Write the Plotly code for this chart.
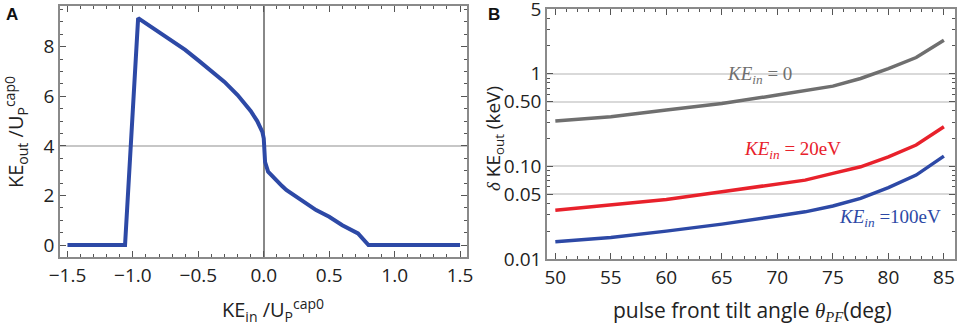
import plotly.graph_objects as go

# Panel A data
ke_in = [-1.5, -1.06, -0.96, -0.8, -0.6, -0.5, -0.4, -0.3, -0.2, -0.15, -0.1, -0.05, -0.03, -0.01,
         0.0, 0.003, 0.01, 0.033, 0.06, 0.1, 0.14, 0.172, 0.25, 0.3, 0.4, 0.5, 0.6, 0.72, 0.80, 1.5]
ke_out = [0, 0, 9.15, 8.6, 7.87, 7.45, 7.04, 6.58, 6.05, 5.75, 5.41, 5.0, 4.81, 4.55,
          4.3, 3.6, 3.35, 2.96, 2.8, 2.58, 2.38, 2.22, 1.95, 1.75, 1.41, 1.14, 0.8, 0.47, 0.0, 0.0]
a_xticks = [-1.5, -1.0, -0.5, 0.0, 0.5, 1.0, 1.5]
a_yticks = [0, 2, 4, 6, 8]

# Panel B data
theta = [50, 55, 60, 65, 70, 72.5, 75, 77.5, 80, 82.5, 85]
dke_0 = [0.309, 0.344, 0.406, 0.479, 0.589, 0.656, 0.736, 0.89, 1.14, 1.50, 2.31]
dke_20 = [0.0337, 0.0382, 0.044, 0.0532, 0.0655, 0.0711, 0.084, 0.099, 0.127, 0.170, 0.268]
dke_100 = [0.01535, 0.0171, 0.020, 0.0238, 0.0291, 0.0323, 0.0373, 0.0451, 0.0589, 0.0806, 0.129]
b_xticks = [50, 55, 60, 65, 70, 75, 80, 85]
b_yticks = [0.01, 0.05, 0.1, 0.5, 1, 5]
b_yticklabels = ["0.01", "0.05", "0.10", "0.50", "1", "5"]
b_minor = [0.02, 0.03, 0.04, 0.06, 0.07, 0.08, 0.09, 0.2, 0.3, 0.4, 0.6, 0.7, 0.8, 0.9, 2, 3, 4]

W, H = 957, 330
def px(x):
    return x / W
def py(y):
    return 1 - y / H

BLUE = "#2D49A6"
RED = "#E8212B"
GRAY = "#6F6F6F"
FRAME = "#8a8a8a"
FONT = "Open Sans"
TICKFONT = dict(family=FONT, size=19, color="#222")

fig = go.Figure()
fig.add_trace(go.Scatter(x=ke_in, y=ke_out, mode="lines", xaxis="x", yaxis="y",
                         line=dict(color=BLUE, width=4), showlegend=False))
fig.add_trace(go.Scatter(x=theta, y=dke_0, mode="lines", xaxis="x2", yaxis="y2",
                         line=dict(color=GRAY, width=3.5), showlegend=False))
fig.add_trace(go.Scatter(x=theta, y=dke_20, mode="lines", xaxis="x2", yaxis="y2",
                         line=dict(color=RED, width=3.5), showlegend=False))
fig.add_trace(go.Scatter(x=theta, y=dke_100, mode="lines", xaxis="x2", yaxis="y2",
                         line=dict(color=BLUE, width=3.5), showlegend=False))

common = dict(showline=True, linecolor=FRAME, linewidth=1.5, mirror="ticks",
              ticks="inside", ticklen=6, tickcolor="#555", tickwidth=1,
              tickfont=TICKFONT, ticklabeloverflow="allow", automargin=False)

fig.update_layout(
    width=W, height=H, margin=dict(l=0, r=0, t=0, b=0),
    plot_bgcolor="white", paper_bgcolor="white",
    xaxis=dict(domain=[px(60), px(467)], anchor="y", range=[-1.557, 1.553],
               tickmode="array", tickvals=a_xticks, tickformat=".1f",
               showgrid=False, zeroline=True, zerolinecolor="#888", zerolinewidth=1.5,
               minor=dict(dtick=0.1, tick0=0, ticks="inside", ticklen=3, tickcolor="#555", showgrid=False),
               **common),
    yaxis=dict(domain=[py(257), py(6)], anchor="x", range=[-0.48, 9.64],
               tickmode="array", tickvals=a_yticks, showgrid=False, zeroline=False,
               minor=dict(dtick=0.5, tick0=0, ticks="inside", ticklen=3, tickcolor="#555", showgrid=False),
               **common),
    xaxis2=dict(domain=[px(547), px(955)], anchor="y2", range=[49.25, 86.0],
                tickmode="array", tickvals=b_xticks, showgrid=False, zeroline=False,
                minor=dict(dtick=1, tick0=50, ticks="inside", ticklen=3, tickcolor="#555", showgrid=False),
                **common),
    yaxis2=dict(domain=[py(259), py(9)], anchor="x2", type="log", range=[-2, 0.7],
                tickmode="array", tickvals=b_yticks, ticktext=b_yticklabels,
                showgrid=True, gridcolor="#d9d9d9", gridwidth=1.5, zeroline=False,
                minor=dict(tickmode="array", tickvals=b_minor, ticks="inside", ticklen=3,
                           tickcolor="#555", showgrid=False),
                **common),
)

# horizontal reference line at y=4 in panel A
fig.add_shape(type="line", xref="x domain", yref="y", x0=0, x1=1, y0=4, y1=4,
              line=dict(color="#b5b5b5", width=1.5), layer="below")

ann = []
ann.append(dict(text="<b>A</b>", x=px(4), y=py(14), xanchor="left", yanchor="middle",
                font=dict(family="Liberation Sans", size=17, color="#111")))
ann.append(dict(text="<b>B</b>", x=px(486), y=py(14), xanchor="left", yanchor="middle",
                font=dict(family="Liberation Sans", size=17, color="#111")))
ann.append(dict(text="KE<sub>in</sub> /U<sub>P</sub><sup>cap0</sup>", x=px(273), y=py(310),
                xanchor="center", yanchor="middle", font=dict(family=FONT, size=20, color="#222")))
ann.append(dict(text="KE<sub>out</sub> /U<sub>P</sub><sup>cap0</sup>", x=px(16), y=py(132),
                xanchor="center", yanchor="middle", textangle=-90,
                font=dict(family=FONT, size=20, color="#222")))
ann.append(dict(text="pulse front tilt angle <span style='font-family:Liberation Serif'><i>θ<sub>PF</sub></i></span>(deg)",
                x=px(752), y=py(310), xanchor="center", yanchor="middle",
                font=dict(family=FONT, size=21, color="#222")))
ann.append(dict(text="<span style='font-family:Liberation Serif'><i>δ</i></span> KE<sub>out</sub> (keV)",
                x=px(494), y=py(138), xanchor="center", yanchor="middle", textangle=-90,
                font=dict(family=FONT, size=19, color="#222")))
ann.append(dict(text="<i>KE</i><sub><i>in</i></sub> = 0", x=px(725), y=py(75),
                xanchor="left", yanchor="middle",
                font=dict(family="Liberation Serif", size=19, color=GRAY)))
ann.append(dict(text="<i>KE</i><sub><i>in</i></sub> = 20eV", x=px(742), y=py(150),
                xanchor="left", yanchor="middle",
                font=dict(family="Liberation Serif", size=19, color=RED)))
ann.append(dict(text="<i>KE</i><sub><i>in</i></sub> =100eV", x=px(943), y=py(218),
                xanchor="right", yanchor="middle",
                font=dict(family="Liberation Serif", size=19, color=BLUE)))
for a in ann:
    a.update(xref="paper", yref="paper", showarrow=False)
fig.update_layout(annotations=ann)

fig.write_html("out.html", config={"displayModeBar": False},
               post_script="document.body.style.margin='0';")
